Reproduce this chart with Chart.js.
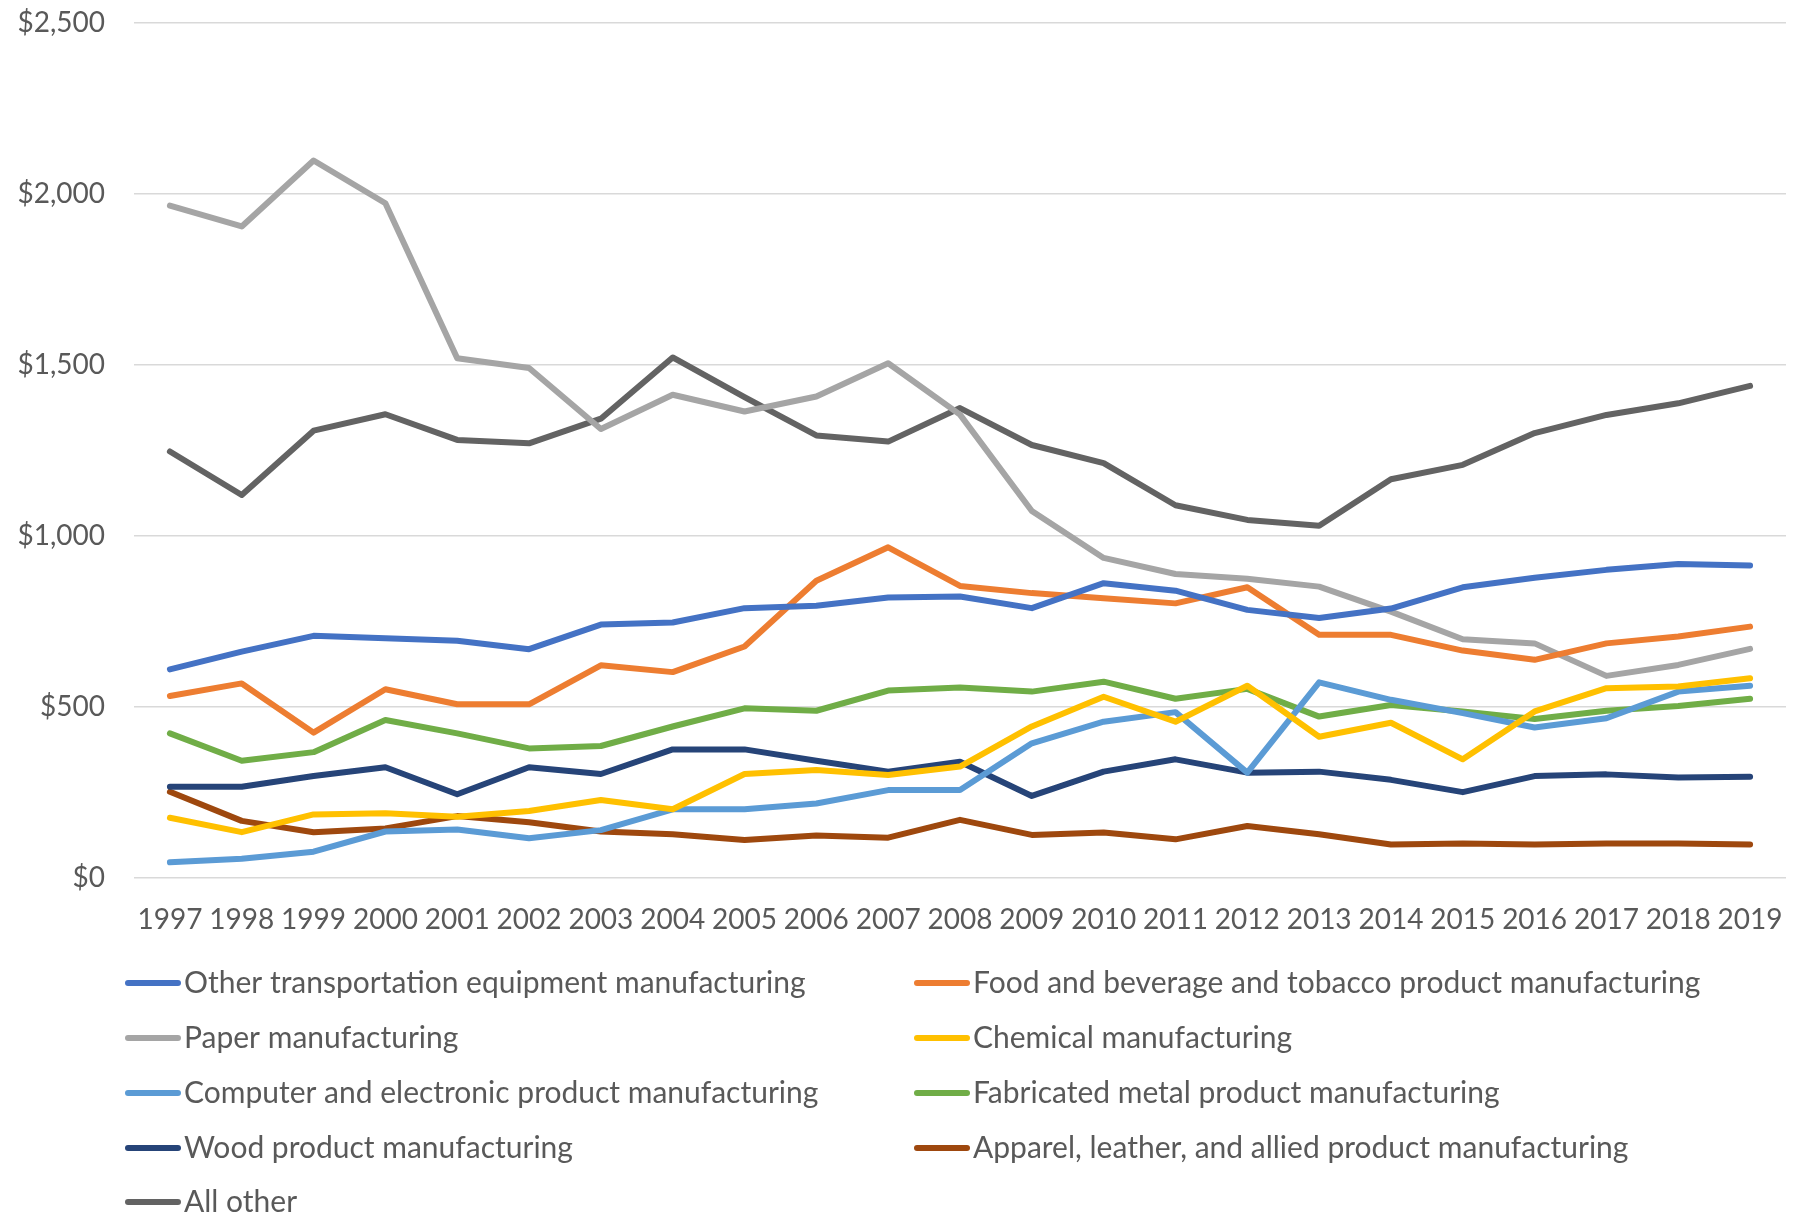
<!DOCTYPE html>
<html>
<head>
<meta charset="utf-8">
<script src="https://cdn.jsdelivr.net/npm/chart.js@4/dist/chart.umd.min.js"></script>
<style>
  html, body { margin: 0; padding: 0; background: #ffffff; }
  #wrap { width: 1793px; height: 1214px; }
</style>
</head>
<body>
<div id="wrap"><canvas id="c" width="1793" height="1214"></canvas></div>
<script>
const years = ['1997','1998','1999','2000','2001','2002','2003','2004','2005','2006','2007','2008','2009','2010','2011','2012','2013','2014','2015','2016','2017','2018','2019'];

const otherTransportation = [610,662,708,701,694,669,741,747,789,796,820,823,789,862,840,784,760,788,850,878,901,918,914];
const foodBeverageTobacco = [532,569,425,552,508,508,622,602,677,869,967,854,833,818,803,850,711,711,665,638,686,706,735];
const paper               = [1966,1905,2098,1973,1520,1491,1313,1413,1364,1408,1505,1355,1073,936,889,875,852,779,698,686,591,623,670];
const chemical            = [176,134,186,189,179,196,228,201,304,316,301,326,443,530,457,562,413,454,347,487,555,560,584];
const computerElectronic  = [46,56,77,136,142,116,140,201,201,218,257,257,394,457,485,308,572,521,482,440,467,545,562];
const fabricatedMetal     = [423,343,368,462,423,379,386,443,496,489,548,557,545,574,524,553,472,506,487,465,489,503,524];
const wood                = [267,267,298,324,245,324,304,376,376,343,311,340,240,311,347,308,311,287,251,298,303,294,296];
const apparelLeather      = [252,167,134,145,181,163,136,128,111,124,118,170,126,133,113,152,128,98,101,98,101,101,98];
const allOther            = [1247,1120,1308,1356,1281,1271,1343,1522,1406,1294,1276,1374,1266,1213,1090,1047,1030,1166,1208,1301,1354,1388,1439];

const seriesNames = [
  'Other transportation equipment manufacturing',
  'Food and beverage and tobacco product manufacturing',
  'Paper manufacturing',
  'Chemical manufacturing',
  'Computer and electronic product manufacturing',
  'Fabricated metal product manufacturing',
  'Wood product manufacturing',
  'Apparel, leather, and allied product manufacturing',
  'All other'
];
const seriesValues = [otherTransportation, foodBeverageTobacco, paper, chemical, computerElectronic, fabricatedMetal, wood, apparelLeather, allOther];
const seriesColors = ['#4472C4','#ED7D31','#A5A5A5','#FFC000','#5B9BD5','#70AD47','#264478','#9E480E','#636363'];

const FONT = 'Lato, "Open Sans", sans-serif';
const TEXT = '#595959';

const legendPlugin = {
  id: 'excelLegend',
  afterDraw(chart) {
    const ctx = chart.ctx;
    const rowY = [983, 1038, 1093, 1148, 1202];
    const colX = [126, 915];
    ctx.save();
    ctx.font = '30px ' + FONT;
    ctx.textBaseline = 'middle';
    ctx.textAlign = 'left';
    chart.data.datasets.forEach((ds, i) => {
      const row = Math.floor(i / 2), col = i % 2;
      const x = colX[col], y = rowY[row];
      ctx.strokeStyle = ds.borderColor;
      ctx.lineWidth = 6;
      ctx.lineCap = 'round';
      ctx.beginPath();
      ctx.moveTo(x + 2, y);
      ctx.lineTo(x + 52, y);
      ctx.stroke();
      ctx.fillStyle = TEXT;
      ctx.fillText(ds.label, x + 58, y);
    });
    ctx.restore();
  }
};

new Chart(document.getElementById('c'), {
  type: 'line',
  data: {
    labels: years,
    datasets: seriesNames.map((name, i) => ({
      label: name,
      data: seriesValues[i],
      borderColor: seriesColors[i],
      backgroundColor: seriesColors[i],
      borderWidth: 6,
      pointRadius: 0,
      pointHoverRadius: 0,
      tension: 0,
      borderCapStyle: 'round',
      borderJoinStyle: 'round',
      fill: false
    }))
  },
  options: {
    responsive: false,
    animation: false,
    events: [],
    layout: { padding: { top: 23, right: 7, left: 0, bottom: 0 } },
    plugins: {
      legend: { display: false },
      tooltip: { enabled: false },
      title: { display: false }
    },
    scales: {
      x: {
        offset: true,
        grid: { display: false, drawTicks: false },
        border: { display: false },
        ticks: {
          color: TEXT,
          font: { family: FONT, size: 28 },
          padding: 25,
          maxRotation: 0,
          autoSkip: false
        },
        afterFit(scale) { scale.height = 336; scale.paddingLeft = 0; scale.paddingRight = 0; }
      },
      y: {
        min: 0,
        max: 2500,
        grid: { color: '#D9D9D9', lineWidth: 1.5, drawTicks: false },
        border: { display: false },
        ticks: {
          stepSize: 500,
          color: TEXT,
          font: { family: FONT, size: 28 },
          padding: 29,
          callback: v => '$' + Number(v).toLocaleString('en-US')
        },
        afterFit(scale) { scale.width = 134; scale.paddingTop = 0; scale.paddingBottom = 0; }
      }
    }
  },
  plugins: [legendPlugin]
});
</script>
</body>
</html>
